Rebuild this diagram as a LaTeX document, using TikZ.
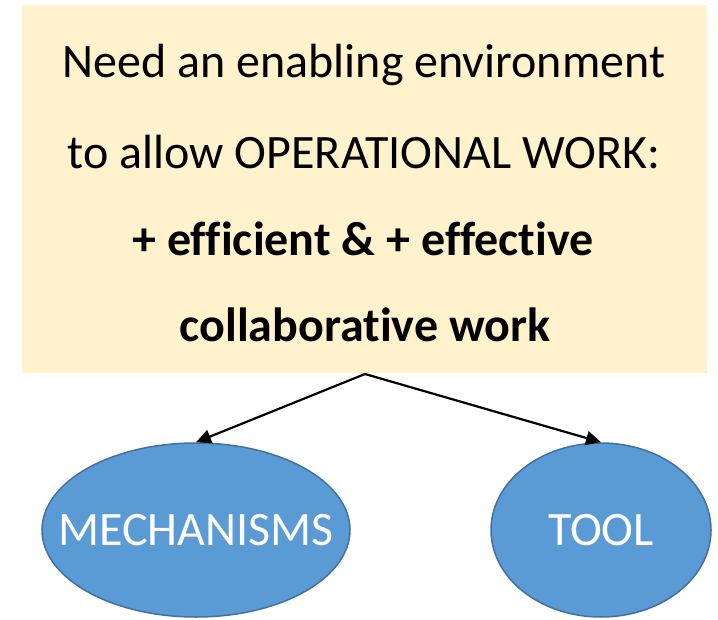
\documentclass[tikz,border=0pt]{standalone}
\usepackage{fontspec}
\setmainfont{Carlito}[Ligatures=NoCommon]
\usetikzlibrary{shapes.geometric,arrows.meta}
\definecolor{boxfill}{HTML}{FFF2CC}
\definecolor{ovalfill}{HTML}{5B9BD5}
\definecolor{ovalline}{HTML}{41719C}
\begin{document}
\begin{tikzpicture}[x=1bp,y=-1bp,
  big/.style={font=\fontsize{48bp}{58bp}\selectfont},
  bigbold/.style={font=\fontsize{48bp}{58bp}\selectfont\bfseries},
  oval/.style={draw=ovalline,line width=1.5bp,fill=ovalfill,shape=ellipse,inner sep=0pt,minimum height=174bp},
  ovaltext/.style={label={[big,text=white]center:#1}},
  link/.style={line width=2.2bp,-{Triangle[length=15bp,width=14bp]}}]
\useasboundingbox (0,0) rectangle (718,620);
\fill[boxfill] (22,5) rectangle (707,373);
\coordinate (need) at (365,374);
\node[big] (line1) at (364,65) {Need an enabling environment};
\node[big] (line2) at (364,152) {to allow OPERATIONAL WORK:};
\node[bigbold] (line3) at (363,239) {+ efficient \& + effective};
\node[bigbold] (line4) at (365,325) {collaborative work};
\node[oval,minimum width=308bp,ovaltext=MECHANISMS] (mech) at (196,530) {};
\node[oval,minimum width=220bp,ovaltext=TOOL] (tool) at (601,530) {};
\draw[link] (need) -- (mech.north);
\draw[link] (need) -- (tool.north);
\end{tikzpicture}
\end{document}
